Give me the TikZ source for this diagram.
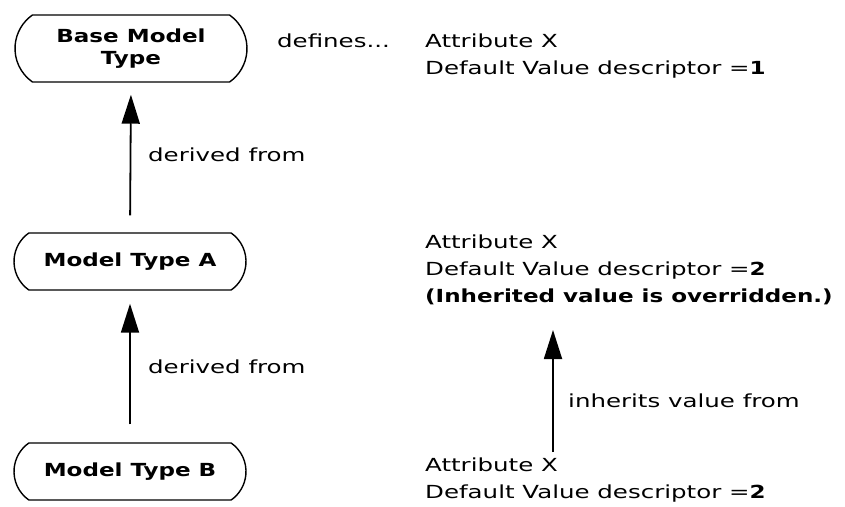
\documentclass[tikz,border=0pt]{standalone}
\usepackage{fontspec}
\setmainfont[FakeStretch=1.36, BoldFeatures={FakeStretch=1.28}]{DejaVu Sans}
\usepackage{tikz}
\usetikzlibrary{arrows.meta,positioning,shapes.misc}

\begin{document}
\begin{tikzpicture}[x=1pt,y=-1pt,
    font=\fontsize{18}{27}\selectfont,
    modeltype/.style={rounded rectangle, rounded rectangle arc length=110, draw, line width=1.4pt,
        minimum width=232pt, inner sep=0pt, font=\fontsize{18}{22}\selectfont\bfseries, align=center},
    note/.style={anchor=west, inner sep=0pt, align=left},
    derive/.style={-{Triangle[length=29pt,width=18pt]}, line width=1.8pt}]
    \useasboundingbox (0,0) rectangle (845,506);

    % Model types
    \node[modeltype, minimum height=67pt] (base) at (131,48.5) {Base Model\\Type};
    \node[modeltype, minimum height=57pt] (typeA) at (130,261.5) {Model Type A};
    \node[modeltype, minimum height=57pt] (typeB) at (130,471.5) {Model Type B};

    % Derivation arrows
    \draw[derive, shorten <=17pt, shorten >=12pt] (typeA.north) -- (base.south);
    \draw[derive, shorten <=18pt, shorten >=13pt] (typeB.north) -- (typeA.south);
    \node[note] (derA) at (148,155) {derived from};
    \node[note] (derB) at (148,367) {derived from};

    % Attribute values
    \node[note] (defines) at (277,41) {defines...};
    \node[note] (attrBase) at (425,56) {Attribute X\\Default Value descriptor =\textbf{1}};
    \node[note] (attrA) at (425,270) {Attribute X\\Default Value descriptor =\textbf{2}\\\textbf{(Inherited value is overridden.)}};
    \node[note] (attrB) at (425,480) {Attribute X\\Default Value descriptor =\textbf{2}};

    % Inheritance of the value
    \coordinate (inhTail) at (553,452);
    \coordinate (inhTip) at (553,330);
    \draw[derive] (inhTail) -- (inhTip);
    \node[note] (inherits) at (568,401) {inherits value from};
\end{tikzpicture}
\end{document}
